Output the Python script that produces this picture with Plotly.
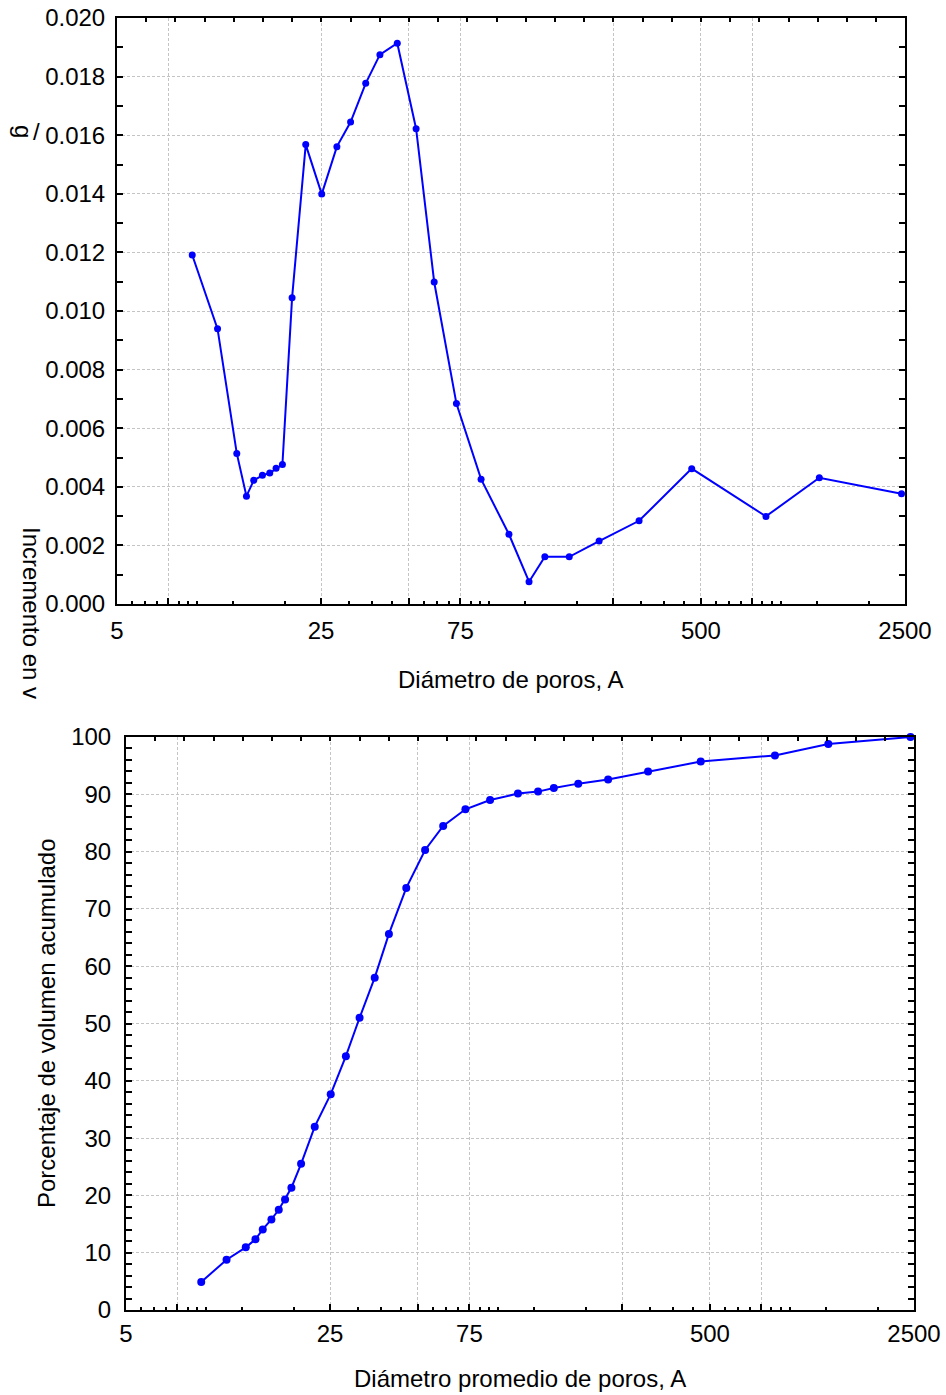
import plotly.graph_objects as go
import math

# ---------------- data ----------------
diametro = [9.05, 11.05, 12.86, 13.88, 14.70, 15.74, 16.68, 17.53, 18.43, 19.89,
            22.15, 25.13, 28.32, 31.55, 35.55, 39.76, 45.6, 52.9, 61.0, 72.7,
            88.3, 110, 128.9, 146, 177, 224, 307, 465, 835, 1272, 2432]

incremento = [0.01191, 0.00939, 0.00514, 0.00368, 0.00422, 0.00439, 0.00447, 0.00463,
              0.00476, 0.01045, 0.01568, 0.01399, 0.01561, 0.01645, 0.01777, 0.01875,
              0.01914, 0.01622, 0.01099, 0.00684, 0.00426, 0.00238, 0.00076, 0.00161,
              0.00161, 0.00215, 0.00284, 0.00462, 0.00299, 0.00431, 0.00376]

acumulado = [4.88, 8.78, 10.93, 12.33, 14.07, 15.81, 17.50, 19.30, 21.34, 25.52,
             32.0, 37.67, 44.3, 51.0, 58.0, 65.64, 73.66, 80.29, 84.48, 87.38,
             89.01, 90.12, 90.47, 91.10, 91.86, 92.58, 93.96, 95.72, 96.78, 98.79, 100.0]

x_tickvals = [5, 7.5, 25, 50, 75, 250, 500, 750, 2500]
x_ticktext = ["5", "", "25", "", "75", "", "500", "", "2500"]
x_minor = [5.625, 6.25, 6.875, 8.125, 8.75, 9.375, 12.5, 18.75, 31.25, 37.5, 43.75,
           56.25, 62.5, 68.75, 81.25, 87.5, 93.75, 125, 187.5, 312.5, 375, 437.5,
           562.5, 625, 687.5, 812.5, 875, 937.5, 1250, 1875]
top_ticks = [5 * 10 ** (0.1 * k) for k in range(1, 27)]

W, H = 946, 1395
FONT = "Liberation Sans, Arial, sans-serif"
BLUE = "#0000FF"
GRID = "#c4c4c4"

def px_x(p):
    return p / W

def px_y(p):
    return 1 - p / H

fig = go.Figure()

fig.add_trace(go.Scatter(x=diametro, y=incremento, mode="lines+markers",
                         line=dict(color=BLUE, width=2),
                         marker=dict(color=BLUE, size=7),
                         xaxis="x", yaxis="y", showlegend=False, cliponaxis=False))
fig.add_trace(go.Scatter(x=diametro, y=acumulado, mode="lines+markers",
                         line=dict(color=BLUE, width=2),
                         marker=dict(color=BLUE, size=8),
                         xaxis="x2", yaxis="y2", showlegend=False, cliponaxis=False))
# dummy traces for top tick axes
fig.add_trace(go.Scatter(x=[5], y=[0], mode="markers", marker=dict(opacity=0),
                         xaxis="x3", yaxis="y", showlegend=False, hoverinfo="skip"))
fig.add_trace(go.Scatter(x=[5], y=[0], mode="markers", marker=dict(opacity=0),
                         xaxis="x4", yaxis="y2", showlegend=False, hoverinfo="skip"))

xr = [math.log10(5), math.log10(2500)]

def xaxis_common(domain, anchor, standoff):
    return dict(
        type="log", range=xr, domain=domain, anchor=anchor, automargin=False,
        tickmode="array", tickvals=x_tickvals, ticktext=x_ticktext,
        ticks="inside", ticklen=6, tickwidth=2, tickcolor="black",
        showline=True, linecolor="black", linewidth=2, mirror=True,
        showgrid=True, gridcolor=GRID, griddash="3px,2px", gridwidth=1,
        minor=dict(tickmode="array", tickvals=x_minor, ticks="inside",
                   ticklen=3, tickwidth=1.5, tickcolor="black", showgrid=False),
        tickfont=dict(family=FONT, size=24, color="black"),
        ticklabelstandoff=standoff, zeroline=False,
    )

def xaxis_top(domain, overlay, anchor):
    return dict(
        type="log", range=xr, domain=domain, overlaying=overlay, anchor=anchor,
        automargin=False,
        side="top", tickmode="array", tickvals=top_ticks, ticks="inside",
        ticklen=4, tickwidth=1.5, tickcolor="black", showticklabels=False,
        showgrid=False, showline=False, zeroline=False,
    )

top_xdom = [px_x(117), px_x(905)]
bot_xdom = [px_x(126), px_x(914)]

fig.update_layout(
    width=W, height=H,
    margin=dict(l=0, r=0, t=0, b=0, autoexpand=False),
    paper_bgcolor="white", plot_bgcolor="white",
    font=dict(family=FONT, size=24, color="black"),
    xaxis=xaxis_common(top_xdom, "y", 4),
    xaxis2=xaxis_common(bot_xdom, "y2", 1),
    xaxis3=xaxis_top(top_xdom, "x", "y"),
    xaxis4=xaxis_top(bot_xdom, "x2", "y2"),
    yaxis=dict(
        domain=[px_y(604), px_y(18)], anchor="x", range=[0, 0.020], automargin=False,
        tickmode="linear", tick0=0, dtick=0.002, tickformat=".3f",
        ticks="inside", ticklen=6, tickwidth=2, tickcolor="black",
        showline=True, linecolor="black", linewidth=2, mirror="allticks",
        showgrid=True, gridcolor=GRID, griddash="3px,2px", gridwidth=1,
        minor=dict(dtick=0.001, ticks="inside", ticklen=3, tickwidth=1.5,
                   tickcolor="black", showgrid=False),
        tickfont=dict(family=FONT, size=24, color="black"),
        ticklabelstandoff=5, zeroline=False,
    ),
    yaxis2=dict(
        domain=[px_y(1310), px_y(737)], anchor="x2", range=[0, 100], automargin=False,
        tickmode="linear", tick0=0, dtick=10,
        ticks="inside", ticklen=6, tickwidth=2, tickcolor="black",
        showline=True, linecolor="black", linewidth=2, mirror="allticks",
        showgrid=True, gridcolor=GRID, griddash="3px,2px", gridwidth=1,
        minor=dict(dtick=2, ticks="inside", ticklen=3, tickwidth=1.5,
                   tickcolor="black", showgrid=False),
        tickfont=dict(family=FONT, size=24, color="black"),
        ticklabelstandoff=8, zeroline=False,
    ),
)

ann = [
    dict(text="Diámetro de poros, A", x=px_x(510), y=px_y(679),
         xanchor="center", yanchor="middle", textangle=0),
    dict(text="Diámetro promedio de poros, A", x=px_x(520), y=px_y(1378),
         xanchor="center", yanchor="middle", textangle=0),
    dict(text="Porcentaje de volumen acumulado", x=px_x(47), y=px_y(1023),
         xanchor="center", yanchor="middle", textangle=-90),
    dict(text="Incremento en v", x=px_x(31), y=px_y(613),
         xanchor="center", yanchor="middle", textangle=90),
    dict(text="g", x=px_x(24), y=px_y(131),
         xanchor="center", yanchor="middle", textangle=90),
    dict(text="/", x=px_x(36), y=px_y(131),
         xanchor="center", yanchor="middle", textangle=0),
]
for a in ann:
    a.update(xref="paper", yref="paper", showarrow=False,
             font=dict(family=FONT, size=24, color="black"))
fig.update_layout(annotations=ann)

fig.write_html(
    "out.html",
    config={"displayModeBar": False},
    post_script="document.body.style.margin='0';document.body.style.overflow='hidden';",
)
